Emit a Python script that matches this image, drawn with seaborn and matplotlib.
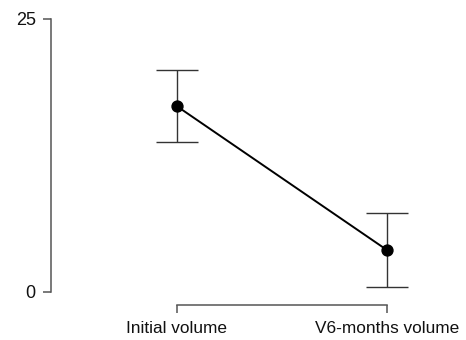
import numpy as np
import pandas as pd
import matplotlib
matplotlib.use("Agg")
import matplotlib.pyplot as plt
import seaborn as sns

categories = ["Initial volume", "V6-months volume"]
means = [17.0, 3.8]
lower = [13.7, 0.4]
upper = [20.35, 7.2]
y_ticks = [0, 25]

sns.set_style("white")
plt.rcParams['font.family'] = ['Liberation Sans', 'DejaVu Sans']

fig = plt.figure(figsize=(4.66, 3.4), dpi=100)
ax = fig.add_axes([51/466, 35/340, (430-51)/466, (305-10)/340])

df = pd.DataFrame({"cond": categories, "vol": means})
m = np.array(means); lo = np.array(lower); hi = np.array(upper)
ax.errorbar(x=[0, 1], y=m, yerr=[m - lo, hi - m], fmt='none', ecolor='#333333',
            elinewidth=1.0, capsize=15.3, capthick=1.0, zorder=1)
sns.pointplot(data=df, x="cond", y="vol", color="black", errorbar=None,
              markers="o", markersize=7.8, linewidth=1.4, ax=ax, zorder=3)

ax.set_xlim(-0.5991, 1.2031)
ax.set_ylim(-1.219, 25.825)
ax.set_yticks(y_ticks)
ax.set_xticks([0, 1])
ax.set_xticklabels(categories)
ax.set_xlabel("")
ax.set_ylabel("")
for s in ["top", "right"]:
    ax.spines[s].set_visible(False)
ax.spines["left"].set_bounds(0, 25)
ax.spines["bottom"].set_bounds(0, 1)
for s in ["left", "bottom"]:
    ax.spines[s].set_color("#555555")
    ax.spines[s].set_linewidth(1.1)
ax.tick_params(axis="both", direction="out", length=6, width=1.1, color="#555555",
               labelsize=12.4, labelcolor="#111111", left=True, bottom=True)
ax.tick_params(axis="y", pad=5, labelsize=13)
ax.tick_params(axis="x", pad=5.5)

fig.savefig("out.png", dpi=100)
